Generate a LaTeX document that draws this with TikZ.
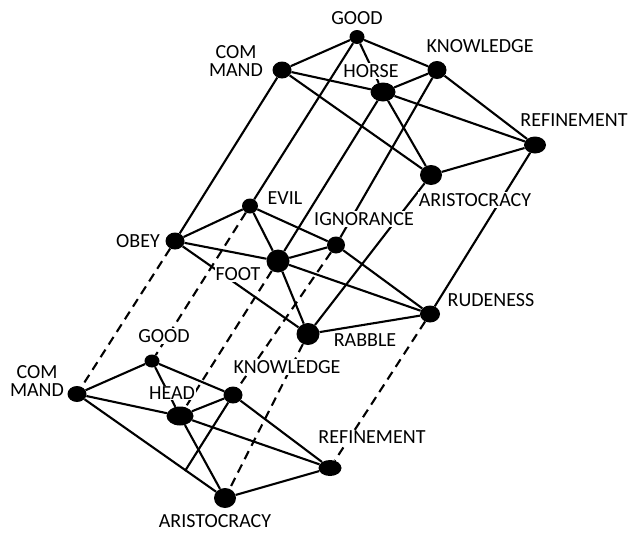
\documentclass[tikz,border=0pt]{standalone}
\usepackage{fontspec}
\setmainfont{Carlito}
\usetikzlibrary{shapes.geometric}
\begin{document}
\begin{tikzpicture}[x=1pt,y=-1pt,
  dot/.style 2 args={ellipse,fill=black,inner sep=0pt,minimum width=#1pt,minimum height=#2pt},
  edge/.style={line width=2.1pt},
  dashedge/.style={line width=2.1pt,dash pattern=on 9pt off 6pt},
  lbl/.style={fill=white,inner sep=1pt,font=\fontsize{20}{18.5}\selectfont,align=center}
]
\useasboundingbox (0,0) rectangle (630,533);
% top layer
\node[dot={15}{14}] (gt) at (357,37) {};
\node[dot={19}{17}] (ct) at (282,70) {};
\node[dot={25}{19}] (ht) at (383,92) {};
\node[dot={19}{18}] (kt) at (437,70) {};
\node[dot={22}{17}] (rt) at (535,145) {};
\node[dot={22}{20}] (at) at (431,175) {};
% middle layer
\node[dot={16}{15}] (ev) at (250,206) {};
\node[dot={19}{17}] (ob) at (175,241) {};
\node[dot={18}{17}] (ig) at (336,245) {};
\node[dot={23}{23}] (ft) at (278,261) {};
\node[dot={20}{17}] (ru) at (430,314) {};
\node[dot={23}{22}] (ra) at (308,334) {};
% bottom layer
\node[dot={15}{13}] (gb) at (152,361) {};
\node[dot={19}{16}] (cb) at (77,394) {};
\node[dot={27}{19}] (hd) at (180,416) {};
\node[dot={19}{17}] (kb) at (233,395) {};
\node[dot={23}{16}] (rb) at (330,468) {};
\node[dot={22}{20}] (ab) at (225,498) {};
\coordinate (kstub) at (185,471);
% top edges
\draw[edge] (gt) -- (ct);
\draw[edge] (gt) -- (ht);
\draw[edge] (gt) -- (kt);
\draw[edge] (ct) -- (ht);
\draw[edge] (ct) -- (at);
\draw[edge] (ht) -- (kt);
\draw[edge] (ht) -- (rt);
\draw[edge] (ht) -- (at);
\draw[edge] (kt) -- (rt);
\draw[edge] (at) -- (rt);
% top to middle
\draw[edge] (gt) -- (ev);
\draw[edge] (ct) -- (ob);
\draw[edge] (kt) -- (ig);
\draw[edge] (ht) -- (ft);
\draw[edge] (rt) -- (ru);
\draw[edge] (at) -- (ra);
% middle edges
\draw[edge] (ev) -- (ob);
\draw[edge] (ev) -- (ft);
\draw[edge] (ev) -- (ig);
\draw[edge] (ob) -- (ft);
\draw[edge] (ob) -- (ra);
\draw[edge] (ft) -- (ig);
\draw[edge] (ft) -- (ru);
\draw[edge] (ft) -- (ra);
\draw[edge] (ig) -- (ru);
\draw[edge] (ra) -- (ru);
% middle to bottom (dashed)
\draw[dashedge] (ob) -- (cb);
\draw[dashedge] (ev) -- (gb);
\draw[dashedge] (ft) -- (hd);
\draw[dashedge] (ig) -- (kb);
\draw[dashedge] (ra) -- (ab);
\draw[dashedge] (ru) -- (rb);
% bottom edges
\draw[edge] (gb) -- (cb);
\draw[edge] (gb) -- (hd);
\draw[edge] (gb) -- (kb);
\draw[edge] (cb) -- (hd);
\draw[edge] (cb) -- (ab);
\draw[edge] (hd) -- (kb);
\draw[edge] (hd) -- (rb);
\draw[edge] (hd) -- (ab);
\draw[edge] (kb) -- (rb);
\draw[edge] (ab) -- (rb);
\draw[edge] (kb) -- (kstub);
% labels
\node[lbl] (lgt) at (357,18) {GOOD};
\node[lbl] (lct) at (236,61) {COM\\MAND};
\node[lbl] (lht) at (371,71) {HORSE};
\node[lbl] (lkt) at (480,46) {KNOWLEDGE};
\node[lbl] (lrt) at (574,120) {REFINEMENT};
\node[lbl] (lat) at (475,200) {ARISTOCRACY};
\node[lbl] (lev) at (285,198) {EVIL};
\node[lbl] (lig) at (364,219) {IGNORANCE};
\node[lbl] (lob) at (138,241) {OBEY};
\node[lbl] (lft) at (238,274) {FOOT};
\node[lbl] (lru) at (491,300) {RUDENESS};
\node[lbl] (lra) at (365,340) {RABBLE};
\node[lbl] (lgb) at (164,336) {GOOD};
\node[lbl] (lcb) at (37,381) {COM\\MAND};
\node[lbl] (lhd) at (172,393) {HEAD};
\node[lbl] (lkb) at (287,367) {KNOWLEDGE};
\node[lbl] (lrb) at (372,437) {REFINEMENT};
\node[lbl] (lab) at (215,521) {ARISTOCRACY};
\end{tikzpicture}
\end{document}
